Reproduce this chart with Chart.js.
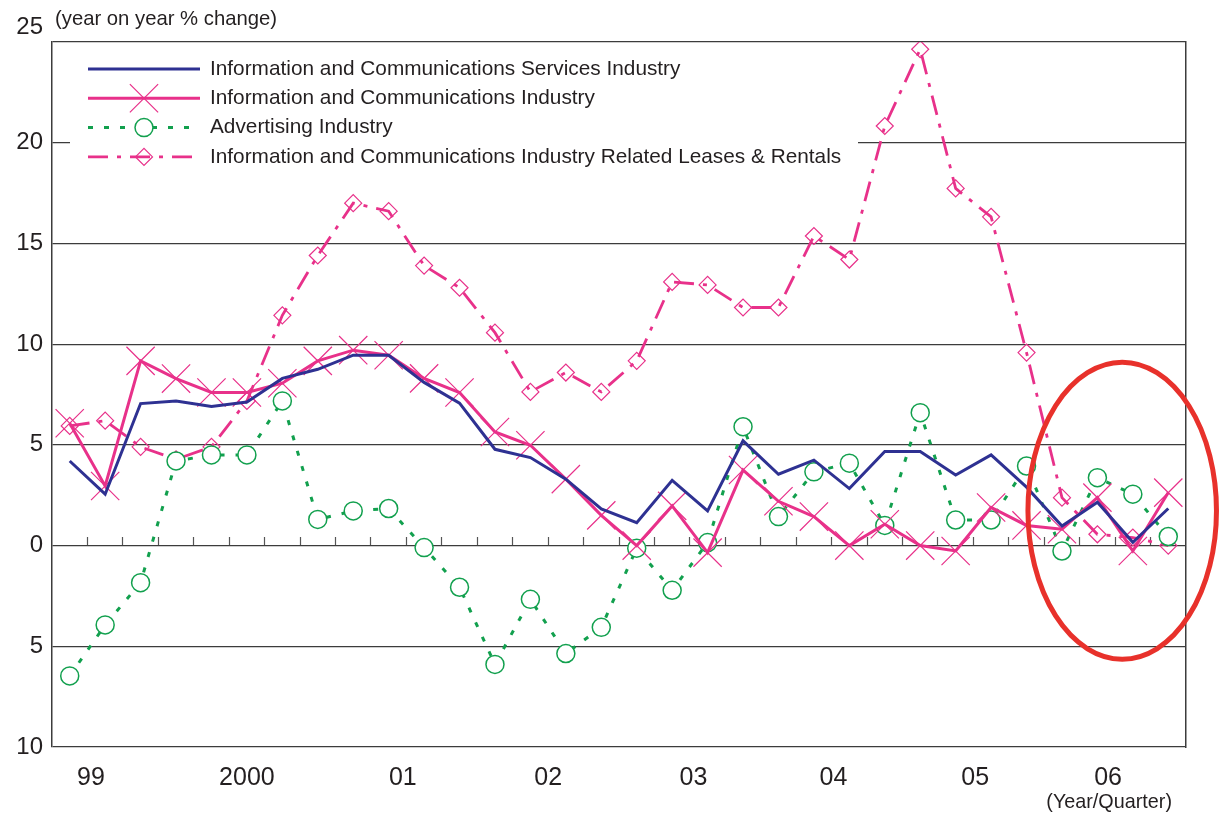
<!DOCTYPE html>
<html>
<head>
<meta charset="utf-8">
<script src="https://cdn.jsdelivr.net/npm/chart.js@4/dist/chart.umd.min.js"></script>
<style>
	body { margin: 0; background: #fff; }
	#wrap { width: 1223px; height: 816px; }
</style>
</head>
<body>
<div id="wrap"><canvas id="c" width="1223" height="816"></canvas></div>
<script>
// quarters 1999 Q1 .. 2006 Q4, index 0..31
var services = [4.2, 2.55, 7.05, 7.18, 6.9, 7.13, 8.3, 8.75, 9.45, 9.45, 8.1, 7.07, 4.78, 4.37, 3.3, 1.82,
	1.14, 3.24, 1.72, 5.2, 3.54, 4.24, 2.83, 4.67, 4.67, 3.5, 4.5, 2.9, 0.97, 2.15, 0.16, 1.84];
var industry = [6.07, 2.96, 9.17, 8.29, 7.6, 7.6, 8.06, 9.17, 9.7, 9.45, 8.3, 7.6, 5.64, 4.98, 3.3, 1.5,
	0.0, 1.97, -0.35, 3.75, 2.2, 1.44, 0.0, 1.06, 0.0, -0.27, 1.89, 1.0, 0.81, 2.38, -0.27, 2.63];
var advertising = [-6.47, -3.94, -1.84, 4.2, 4.5, 4.5, 7.18, 1.3, 1.72, 1.84, -0.1, -2.07, -5.9, -2.67, -5.36, -4.06,
	-0.13, -2.22, 0.15, 5.9, 1.44, 3.66, 4.09, 1.0, 6.6, 1.27, 1.27, 3.95, -0.27, 3.37, 2.55, 0.45];
var leases = [5.94, 6.2, 4.9, 4.28, 4.9, 7.18, 11.43, 14.4, 17.0, 16.6, 13.9, 12.8, 10.57, 7.63, 8.59, 7.63,
	9.17, 13.09, 12.94, 11.82, 11.82, 15.37, 14.2, 20.83, 24.64, 17.73, 16.32, 9.58, 2.38, 0.56, 0.4, 0.0];

var seriesNames = [
	'Information and Communications Services Industry',
	'Information and Communications Industry',
	'Advertising Industry',
	'Information and Communications Industry Related Leases & Rentals'
];
var yearLabels = ['99', '2000', '01', '02', '03', '04', '05', '06'];
var yearPos = [0.6, 5.0, 9.4, 13.5, 17.6, 21.55, 25.55, 29.3];
var yTicks = [-10, -5, 0, 5, 10, 15, 20, 25];

var FONT = '"Liberation Sans", Arial, Helvetica, sans-serif';
var INK = '#231f20';
var BLUE = '#2e3192';
var PINK = '#e8318a';
var GREEN = '#12a04e';

function pts(arr) {
	return arr.map(function(v, i) { return {x: i, y: v}; });
}

// in-plot legend, axis captions and the red ellipse
var extras = {
	id: 'extras',
	afterDraw: function(chart) {
		var ctx = chart.ctx;
		var ca = chart.chartArea;
		var xs = chart.scales.x;
		var ys = chart.scales.y;
		ctx.save();

		// legend box
		var bx = ca.left + 18, by = ca.top + 10;
		ctx.fillStyle = '#fff';
		ctx.fillRect(bx, by, 788, 122);
		ctx.font = '20.8px ' + FONT;
		ctx.textBaseline = 'middle';
		chart.data.datasets.forEach(function(ds, i) {
			var ry = ca.top + 27 + i * 29.3;
			var x0 = ca.left + 36, x1 = ca.left + 148;
			ctx.save();
			ctx.strokeStyle = ds.borderColor;
			ctx.lineWidth = ds.borderWidth;
			ctx.setLineDash(ds.borderDash || []);
			ctx.beginPath();
			ctx.moveTo(x0, ry);
			ctx.lineTo(x1, ry);
			ctx.stroke();
			ctx.restore();
			if (ds.pointRadius > 0) {
				ctx.save();
				ctx.strokeStyle = ds.pointBorderColor;
				ctx.fillStyle = ds.pointBackgroundColor;
				ctx.lineWidth = ds.pointBorderWidth;
				Chart.helpers.drawPoint(ctx, {
					pointStyle: ds.pointStyle,
					radius: ds.pointRadius,
					borderWidth: ds.pointBorderWidth,
					rotation: 0
				}, (x0 + x1) / 2, ry);
				ctx.restore();
			}
			ctx.fillStyle = INK;
			ctx.textAlign = 'left';
			ctx.fillText(ds.label, ca.left + 158, ry);
		});

		// captions
		ctx.fillStyle = INK;
		ctx.font = '20.3px ' + FONT;
		ctx.textAlign = 'left';
		ctx.fillText('(year on year % change)', ca.left + 3, 19);
		ctx.font = '19.8px ' + FONT;
		ctx.textAlign = 'right';
		ctx.fillText('(Year/Quarter)', ca.right - 14, 803);

		// red ellipse round the latest quarters
		var cx = xs.getPixelForValue(29.7);
		var cy = ys.getPixelForValue(1.73);
		var rx = Math.abs(xs.getPixelForValue(29.7 + 2.66) - cx);
		var rr = Math.abs(ys.getPixelForValue(1.73 + 7.37) - cy);
		ctx.strokeStyle = '#e8312b';
		ctx.lineWidth = 5;
		ctx.beginPath();
		ctx.ellipse(cx, cy, rx, rr, 0, 0, Math.PI * 2);
		ctx.stroke();
		ctx.restore();
	}
};

var ctx = document.getElementById('c').getContext('2d');
var chart = new Chart(ctx, {
	type: 'line',
	data: {
		datasets: [{
			label: seriesNames[0],
			data: pts(services),
			borderColor: BLUE,
			borderWidth: 3,
			pointRadius: 0,
			tension: 0
		}, {
			label: seriesNames[1],
			data: pts(industry),
			borderColor: PINK,
			borderWidth: 3,
			pointStyle: 'crossRot',
			pointRadius: 20,
			pointBorderWidth: 1.2,
			pointBorderColor: PINK,
			pointBackgroundColor: 'rgba(0,0,0,0)',
			tension: 0
		}, {
			label: seriesNames[2],
			data: pts(advertising),
			borderColor: GREEN,
			borderWidth: 3,
			borderDash: [5, 11],
			pointStyle: 'circle',
			pointRadius: 9,
			pointBorderWidth: 1.5,
			pointBorderColor: GREEN,
			pointBackgroundColor: '#fff',
			tension: 0
		}, {
			label: seriesNames[3],
			data: pts(leases),
			borderColor: PINK,
			borderWidth: 2.8,
			borderDash: [20, 9, 4, 9],
			pointStyle: 'rectRot',
			pointRadius: 8.5,
			pointBorderWidth: 1.2,
			pointBorderColor: PINK,
			pointBackgroundColor: 'rgba(0,0,0,0)',
			tension: 0
		}]
	},
	options: {
		responsive: false,
		animation: false,
		layout: { padding: { top: 42, right: 37, bottom: 0, left: 0 } },
		plugins: {
			legend: { display: false },
			tooltip: { enabled: false }
		},
		scales: {
			x: {
				type: 'linear',
				min: -0.5,
				max: 31.5,
				afterBuildTicks: function(axis) {
					axis.ticks = yearPos.map(function(v) { return {value: v}; });
				},
				afterFit: function(axis) { axis.height = 69; },
				grid: { display: false },
				border: { display: false },
				ticks: {
					autoSkip: false,
					maxRotation: 0,
					padding: 8,
					color: INK,
					font: { family: FONT, size: 25 },
					callback: function(v, i) { return yearLabels[i]; }
				}
			},
			xq: {
				type: 'linear',
				position: { y: 0 },
				min: -0.5,
				max: 31.5,
				afterBuildTicks: function(axis) {
					var t = [];
					for (var i = 0; i < services.length - 1; i++) t.push({value: i + 0.5});
					axis.ticks = t;
				},
				grid: {
					drawOnChartArea: false,
					drawTicks: true,
					tickLength: -9,
					tickWidth: 1.2,
					tickColor: '#555'
				},
				border: { display: false },
				ticks: { display: false }
			},
			y: {
				min: -10,
				max: 25,
				afterBuildTicks: function(axis) {
					axis.ticks = yTicks.map(function(v) { return {value: v}; });
				},
				afterFit: function(axis) { axis.width = 52; },
				grid: { color: '#3c3c3c', lineWidth: 1.2, drawTicks: false },
				border: { color: '#3c3c3c', width: 1.5 },
				ticks: {
					padding: 9,
					color: INK,
					font: { family: FONT, size: 24 },
					callback: function(v) {
						if (v === 25) return ['25', ''];
						return String(Math.abs(v));
					}
				}
			},
			yr: {
				position: 'right',
				min: -10,
				max: 25,
				afterFit: function(axis) { axis.width = 0; },
				grid: { drawOnChartArea: false, drawTicks: false },
				border: { color: '#3c3c3c', width: 1.5 },
				ticks: { display: false }
			}
		}
	},
	plugins: [extras]
});
</script>
</body>
</html>
